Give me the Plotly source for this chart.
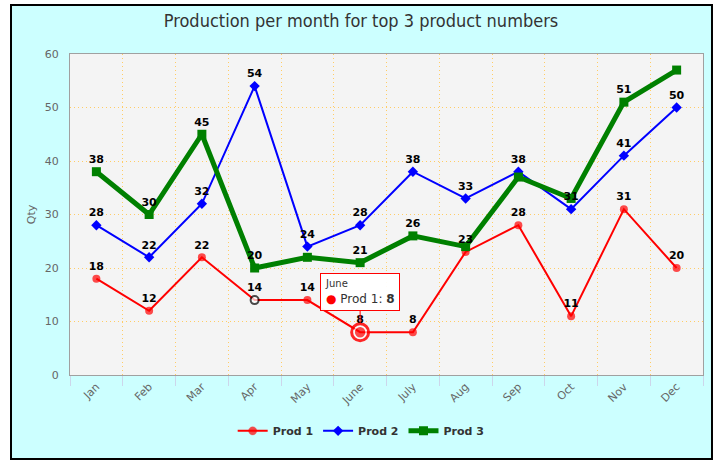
import plotly.graph_objects as go

months = ["Jan", "Feb", "Mar", "Apr", "May", "June", "July", "Aug", "Sep", "Oct", "Nov", "Dec"]
prod1 = [18, 12, 22, 14, 14, 8, 8, 23, 28, 11, 31, 20]
prod2 = [28, 22, 32, 54, 24, 28, 38, 33, 38, 31, 41, 50]
prod3 = [38, 30, 45, 20, 22, 21, 26, 24, 37, 33, 51, 57]

# which data labels are visible (overlapping ones hidden in the original)
show1 = [1] * 12
show2 = [1] * 12
show3 = [1, 1, 1, 1, 0, 1, 1, 0, 0, 0, 1, 0]

hover_idx = 5     # June, Prod 1 (tooltip)
select_idx = 3    # Apr, Prod 1 (white marker)

def labels(vals, show):
    return [str(v) if s else "" for v, s in zip(vals, show)]

label_font = dict(family="DejaVu Sans, Verdana, sans-serif", size=11, color="#000000", weight="bold")

fig = go.Figure()

# plot area light background & outer cyan frame
fig.add_shape(type="rect", xref="paper", yref="paper",
              x0=-0.0932, x1=1.0142, y0=-0.2617, y1=1.1526,
              fillcolor="#ccffff", line=dict(color="#000000", width=2), layer="below")
fig.add_shape(type="rect", xref="paper", yref="paper",
              x0=0, x1=1, y0=0, y1=1,
              fillcolor="#f4f4f4", line=dict(width=0), layer="below")

p1_colors = ["#ff0000"] * 12
p1_line_colors = ["#ff0000"] * 12
p1_sizes = [8] * 12
p1_line_w = [0] * 12
p1_colors[select_idx] = "#ffffff"
p1_line_colors[select_idx] = "#000000"
p1_line_w[select_idx] = 2
p1_colors[hover_idx] = "#ff0000"
p1_line_colors[hover_idx] = "#ffffff"
p1_line_w[hover_idx] = 1.5
p1_sizes[hover_idx] = 12

series = [
    ("Prod 1", prod1, show1, "#ff0000", 2, "circle", p1_sizes, p1_colors,
     dict(color=p1_line_colors, width=p1_line_w)),
    ("Prod 2", prod2, show2, "#0000ff", 2, "diamond", 8, "#0000ff", dict(width=0)),
    ("Prod 3", prod3, show3, "#008000", 5, "square", 9, "#008000", dict(width=0)),
]

for name, vals, show, col, lw, sym, size, mcol, mline in series:
    fig.add_trace(go.Scatter(
        x=months, y=vals, name=name, mode="lines+markers",
        line=dict(color=col, width=lw),
        marker=dict(symbol=sym, size=size, color=mcol, line=mline)))

# halo for hovered point
fig.add_trace(go.Scatter(
    x=[months[hover_idx]], y=[prod1[hover_idx]], mode="markers",
    marker=dict(symbol="circle-open", size=17, color="rgba(255,0,0,0.85)", line=dict(width=3)),
    showlegend=False, hoverinfo="skip"))

# data labels on top of all lines
for name, vals, show, col, lw, sym, size, mcol, mline in series:
    fig.add_trace(go.Scatter(
        x=months, y=vals, mode="markers+text", showlegend=False, hoverinfo="skip",
        marker=dict(size=8, color="rgba(0,0,0,0)"),
        text=labels(vals, show), textposition="top center", textfont=label_font))

# tooltip
fig.add_annotation(
    x=months[hover_idx], y=prod1[hover_idx], xref="x", yref="y",
    text=("<span style='font-size:10px'>June</span><br>"
          "<span style='color:#ff0000'>●</span> Prod 1: <b>8</b>"),
    showarrow=True, arrowhead=0, arrowwidth=1, arrowcolor="#ff0000",
    ax=0, ay=-40, standoff=9, align="left",
    bgcolor="rgba(255,255,255,0.95)", bordercolor="#ff0000", borderwidth=1, borderpad=4,
    font=dict(family="DejaVu Sans, Verdana, sans-serif", size=12, color="#333333"))

fig.update_layout(
    width=722, height=467,
    margin=dict(l=70, r=19, t=54, b=92),
    paper_bgcolor="#ffffff",
    plot_bgcolor="rgba(0,0,0,0)",
    title=dict(text="Production per month for top 3 product numbers",
               x=0.5, xref="container", xanchor="center",
               y=1 - 21 / 467, yref="container", yanchor="middle",
               font=dict(family="Liberation Sans Narrow, DejaVu Sans Condensed, Open Sans, sans-serif",
                         size=18, color="#333333")),
    showlegend=True,
    legend=dict(orientation="h", x=0.46, xanchor="center", y=-0.174, yanchor="middle",
                font=dict(family="DejaVu Sans, Verdana, sans-serif", size=11, color="#333333", weight="bold"),
                bgcolor="rgba(0,0,0,0)", itemwidth=30),
    hovermode=False,
)

fig.update_xaxes(
    type="category", categoryorder="array", categoryarray=months,
    range=[-0.5, 11.5], tickson="boundaries",
    showgrid=True, gridcolor="#ffcc66", griddash="1px,3px", gridwidth=1,
    ticks="outside", ticklen=10, tickcolor="#ccd6eb",
    tickangle=-45, tickfont=dict(family="DejaVu Sans, Verdana, sans-serif", size=11, color="#666666"),
    showline=True, linecolor="#a0a0a0", linewidth=1, mirror=True, zeroline=False)

fig.update_yaxes(
    range=[0, 60], dtick=10, tick0=0,
    showgrid=True, gridcolor="#ffcc66", griddash="1px,3px", gridwidth=1,
    ticks="outside", ticklen=8, tickcolor="rgba(0,0,0,0)",
    tickfont=dict(family="DejaVu Sans, Verdana, sans-serif", size=11, color="#666666"),
    title=dict(text="Qty", standoff=6,
               font=dict(family="DejaVu Sans, Verdana, sans-serif", size=11, color="#666666")),
    showline=True, linecolor="#a0a0a0", linewidth=1, mirror=True, zeroline=False)

fig.write_html("out.html")
